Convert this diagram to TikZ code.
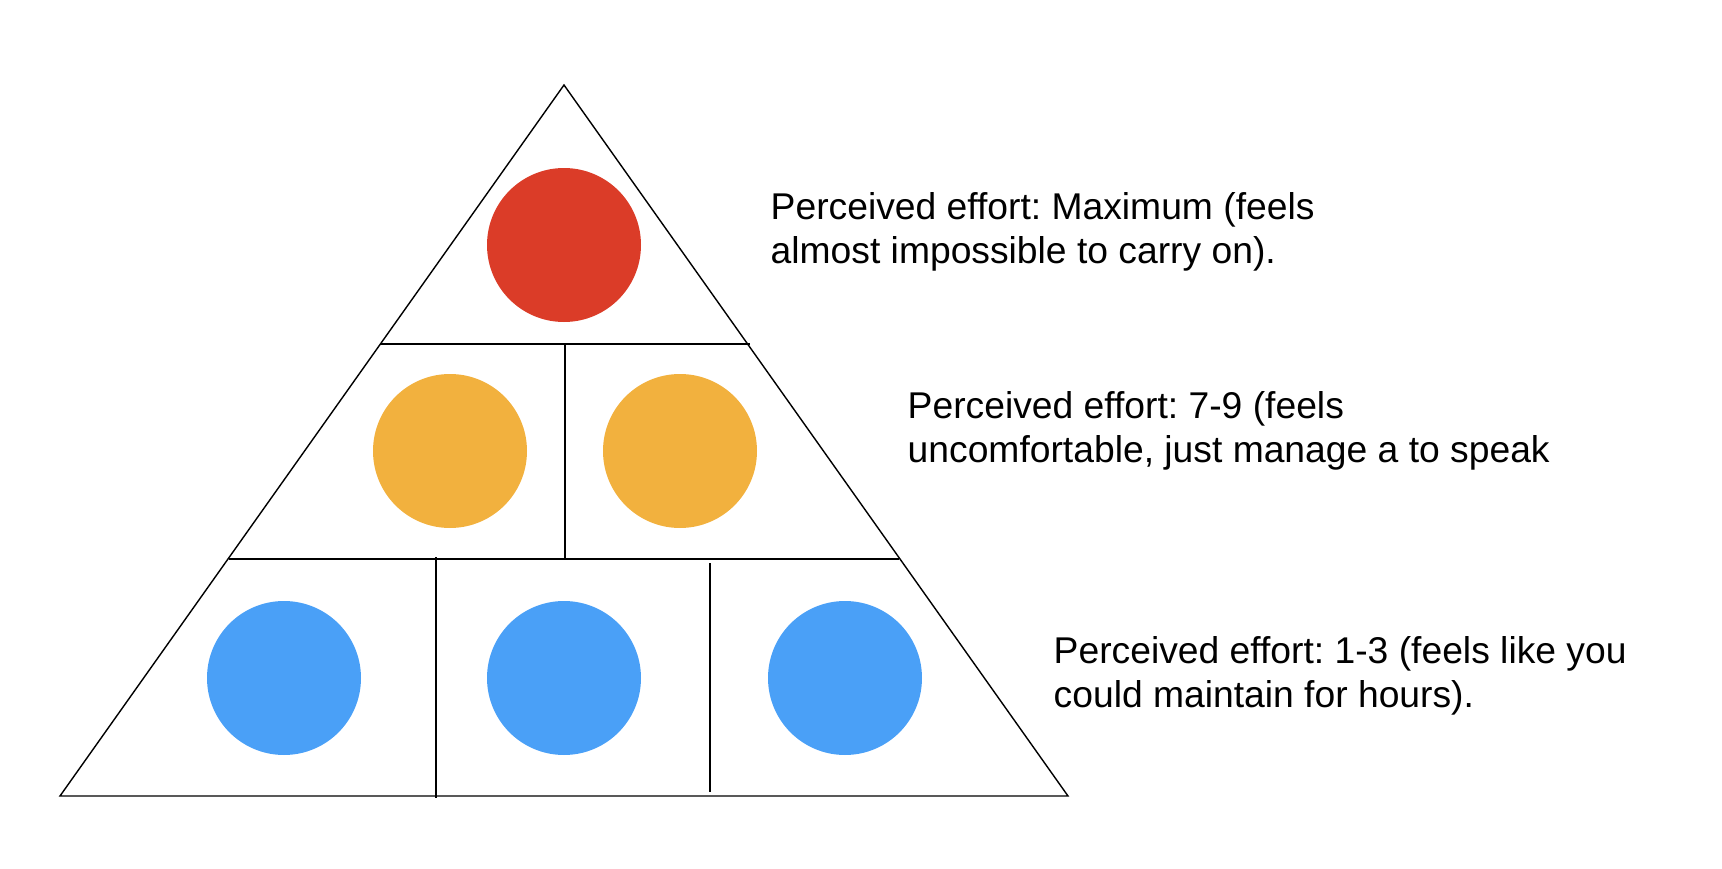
\documentclass[tikz,border=0pt]{standalone}
\usepackage{fontspec}
\setmainfont{Liberation Sans}
\frenchspacing
\definecolor{effred}{RGB}{219,60,40}
\definecolor{effamber}{RGB}{242,177,62}
\definecolor{effblue}{RGB}{74,160,247}
\begin{document}
\begin{tikzpicture}[
    dot/.style={circle, minimum size=1.54cm, inner sep=0pt},
    divider/.style={line width=0.7pt},
    effort/.style={anchor=base west, align=left, inner sep=0pt, font=\fontsize{10.6}{12.4}\selectfont}
  ]
    \useasboundingbox (0,0) rectangle (17.22,8.68);
    \draw [line width=0.4pt] (5.64,7.83) -- (10.68,0.72) -- (0.60,0.72) -- cycle;
    \draw [divider] (3.80,5.24) -- (7.50,5.24);
    \draw [divider] (2.29,3.09) -- (8.99,3.09);
    \draw [divider] (5.65,5.24) -- (5.65,3.09);
    \draw [divider] (4.36,3.11) -- (4.36,0.70);
    \draw [divider] (7.10,3.05) -- (7.10,0.76);
    \node [dot, fill=effred] (max) at (5.64,6.23) {};
    \node [dot, fill=effamber] (highL) at (4.50,4.17) {};
    \node [dot, fill=effamber] (highR) at (6.80,4.17) {};
    \node [dot, fill=effblue] (lowL) at (2.84,1.90) {};
    \node [dot, fill=effblue] (lowM) at (5.64,1.90) {};
    \node [dot, fill=effblue] (lowR) at (8.45,1.90) {};
    \node [effort] (lblmax) at (7.70,6.05) {Perceived effort: Maximum (feels\\almost impossible to carry on).};
    \node [effort] (lblhigh) at (9.07,4.06) {Perceived effort: 7-9 (feels\\uncomfortable, just manage a to speak};
    \node [effort] (lbllow) at (10.53,1.61) {Perceived effort: 1-3 (feels like you\\could maintain for hours).};
  \end{tikzpicture}
\end{document}
